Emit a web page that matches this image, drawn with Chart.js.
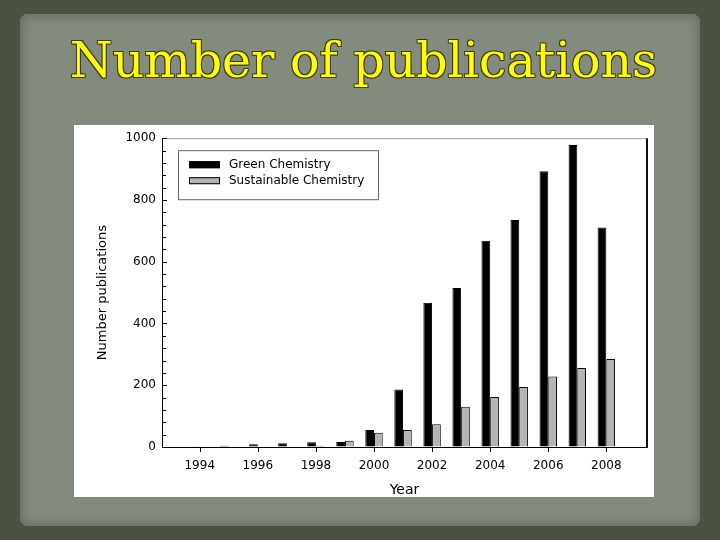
<!DOCTYPE html>
<html>
<head>
<meta charset="utf-8">
<script src="https://cdn.jsdelivr.net/npm/chart.js@4.4.1/dist/chart.umd.min.js"></script>
<style>
  html, body { margin: 0; padding: 0; }
  body { width: 720px; height: 540px; background: #4b5244; position: relative; overflow: hidden; }
  .paper { position: absolute; left: 20px; top: 14px; width: 680px; height: 512px; background: #838a7e;
           border-radius: 8px; box-shadow: inset 0 0 8px 4px #6c7365; }
  h1 { position: absolute; left: 0; top: 36px; width: 727px; margin: 0; text-align: center;
       font-family: "DejaVu Serif", serif; font-weight: normal; font-size: 49px; line-height: 49px;
       color: #ffff00;
       text-shadow: 1px 1px 0 #3a3a20, -1px -1px 0 #3a3a20, 1px -1px 0 #3a3a20, -1px 1px 0 #3a3a20; }
  .panel { position: absolute; left: 74px; top: 125px; width: 580px; height: 372px; background: #fff; }
</style>
</head>
<body>
<div class="paper"></div>
<h1>Number of publications</h1>
<div class="panel"><canvas id="pubChart" width="580" height="372"></canvas></div>
<script>
const years = [1994, 1995, 1996, 1997, 1998, 1999, 2000, 2001, 2002, 2003, 2004, 2005, 2006, 2007, 2008];
const greenChemistry = [1, 4, 9, 12, 15, 16, 55, 186, 467, 515, 668, 735, 893, 978, 711];
const sustainableChemistry = [0, 0, 0, 0, 4, 20, 46, 55, 74, 130, 162, 194, 228, 256, 285];
const yearTicks = [1994, 1996, 1998, 2000, 2002, 2004, 2006, 2008];
const seriesNames = ['Green Chemistry', 'Sustainable Chemistry'];
const seriesColors = ['#000000', '#b4b4b4'];

const FONT = 'DejaVu Sans';

// frame, inward y ticks, outward x ticks and the legend box inside the plot
const framePlugin = {
  id: 'frame',
  afterDraw(chart) {
    const { ctx, chartArea: a, scales: { x, y } } = chart;
    ctx.save();
    ctx.lineWidth = 1;
    ctx.strokeStyle = '#a0a0a0';
    ctx.beginPath();
    ctx.moveTo(a.left, a.top + 0.5);
    ctx.lineTo(a.right, a.top + 0.5);
    ctx.stroke();
    ctx.strokeStyle = '#111';
    ctx.lineWidth = 2;
    ctx.beginPath();
    ctx.moveTo(a.right, a.top);
    ctx.lineTo(a.right, a.bottom);
    ctx.stroke();

    ctx.lineWidth = 1;
    ctx.strokeStyle = '#000';
    for (let v = y.min; v <= y.max; v += 40) {
      const py = Math.round(y.getPixelForValue(v)) + 0.5;
      const len = v % 200 === 0 ? 5 : 4;
      ctx.beginPath();
      ctx.moveTo(a.left, py);
      ctx.lineTo(a.left + len, py);
      ctx.stroke();
    }
    yearTicks.forEach(t => {
      const px = Math.round(x.getPixelForValue(t)) + 0.5;
      ctx.beginPath();
      ctx.moveTo(px, a.bottom);
      ctx.lineTo(px, a.bottom + 5);
      ctx.stroke();
    });

    // legend
    const lx = a.left + 16, ly = a.top + 12;
    ctx.strokeStyle = '#666';
    ctx.strokeRect(lx + 0.5, ly + 0.5, 200, 49);
    ctx.font = '12px "' + FONT + '"';
    ctx.textBaseline = 'middle';
    chart.data.datasets.forEach((ds, i) => {
      const sy = ly + 11 + i * 16;
      ctx.fillStyle = ds.backgroundColor;
      ctx.fillRect(lx + 11, sy, 31, 7);
      ctx.strokeStyle = '#000';
      ctx.strokeRect(lx + 11.5, sy + 0.5, 30, 6);
      ctx.fillStyle = '#000';
      ctx.fillText(ds.label, lx + 51, sy + 4);
    });
    ctx.restore();
  }
};

new Chart(document.getElementById('pubChart').getContext('2d'), {
  type: 'bar',
  data: {
    datasets: [
      {
        label: seriesNames[0],
        data: years.map((yr, i) => ({ x: yr, y: greenChemistry[i] })),
        backgroundColor: seriesColors[0],
        borderColor: '#000',
        borderWidth: 1
      },
      {
        label: seriesNames[1],
        data: years.map((yr, i) => ({ x: yr, y: sustainableChemistry[i] })),
        backgroundColor: seriesColors[1],
        borderColor: '#000',
        borderWidth: 1
      }
    ]
  },
  options: {
    responsive: false,
    animation: false,
    barPercentage: 1,
    categoryPercentage: 0.6,
    layout: { padding: { top: 11, right: 7, left: 0, bottom: 0 } },
    plugins: { legend: { display: false }, tooltip: { enabled: false } },
    scales: {
      x: {
        type: 'linear',
        min: 1992.7,
        max: 2009.4,
        offset: false,
        afterBuildTicks: s => { s.ticks = yearTicks.map(v => ({ value: v })); },
        afterFit: s => { s.height = 50; },
        grid: { offset: false, drawOnChartArea: false, drawTicks: false },
        border: { display: true, color: '#000', width: 1 },
        ticks: {
          autoSkip: false,
          maxRotation: 0,
          padding: 12,
          color: '#000',
          font: { family: FONT, size: 12 },
          callback: v => String(v)
        },
        title: {
          display: true,
          text: 'Year',
          color: '#000',
          font: { family: FONT, size: 14, lineHeight: 1 },
          padding: { top: 0, bottom: 0 }
        }
      },
      y: {
        min: 0,
        max: 1000,
        afterFit: s => { s.width = 88; },
        grid: { drawOnChartArea: false, drawTicks: false },
        border: { display: true, color: '#000', width: 1 },
        ticks: {
          stepSize: 200,
          padding: 6,
          color: '#000',
          font: { family: FONT, size: 12 },
          callback: v => String(v)
        },
        title: {
          display: true,
          text: 'Number publications',
          color: '#000',
          font: { family: FONT, size: 13, lineHeight: 1 },
          padding: { top: 22, bottom: 0 }
        }
      }
    }
  },
  plugins: [framePlugin]
});
</script>
</body>
</html>
